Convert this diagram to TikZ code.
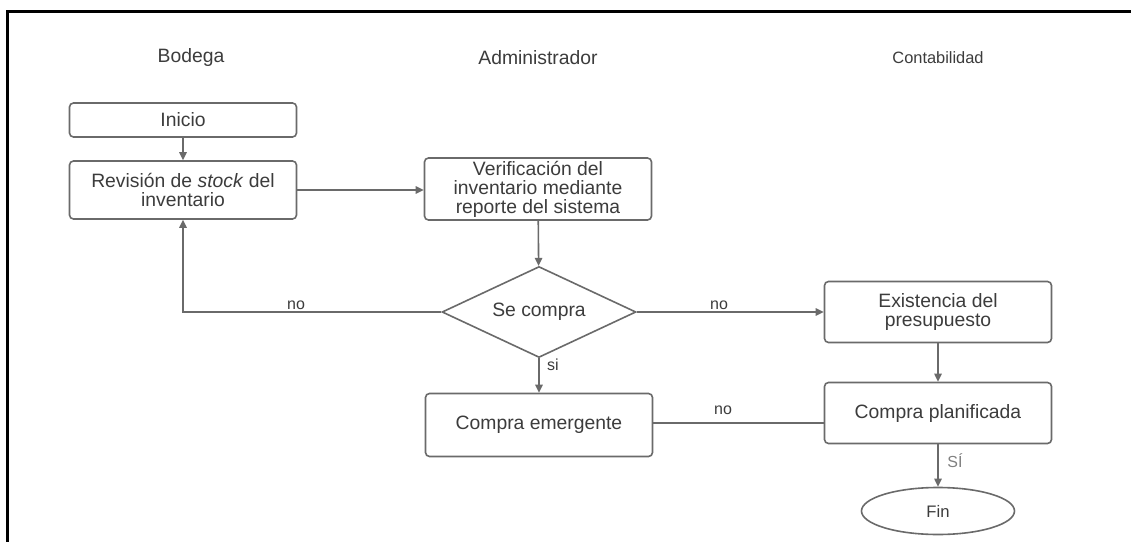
\documentclass[tikz,border=0pt]{standalone}
\usepackage{fontspec}
\setmainfont{Liberation Sans}
\usetikzlibrary{shapes.geometric,arrows.meta}
\definecolor{linegray}{HTML}{6A6A6A}
\definecolor{textgray}{HTML}{3C3C3C}
\begin{document}
\begin{tikzpicture}[x=0.75pt,y=-0.75pt,
  every node/.style={text=textgray},
  box/.style={draw=linegray,line width=1.2pt,rounded corners=3pt,fill=white,
    minimum width=170.25pt,align=center,inner sep=2pt,
    font=\fontsize{14.5}{14.2}\selectfont},
  decision/.style={draw=linegray,line width=1.2pt,shape=diamond,inner sep=0pt,
    aspect=2.13,minimum width=145.5pt,minimum height=68.25pt,
    font=\fontsize{14.5}{14.2}\selectfont},
  endshape/.style={draw=linegray,line width=1.2pt,ellipse,inner sep=0pt,
    minimum width=114.75pt,minimum height=35.25pt,font=\fontsize{12.5}{14}\selectfont},
  lane/.style={font=\fontsize{14.5}{16}\selectfont},
  lanesmall/.style={font=\fontsize{12.3}{14}\selectfont},
  conn/.style={draw=linegray,line width=1.2pt},
  arr/.style={conn,-{Triangle[length=6pt,width=5.5pt]}},
  lbl/.style={font=\fontsize{12}{14}\selectfont,inner sep=1pt},
]
\useasboundingbox (0,0) rectangle (1131,542);
\fill[white] (0,0) rectangle (1131,542);
% outer frame (top and left edges)
\draw[line width=2.25pt] (7,542) -- (7,12) -- (1131,12);

% lane titles
\node[lane] (hbod) at (191,58) {Bodega};
\node[lane] (hadm) at (538,58) {Administrador};
\node[lanesmall] (hcon) at (938,58) {Contabilidad};

% process steps
\node[box,minimum height=25.5pt] (inicio) at (183,120) {Inicio};
\node[box,minimum height=43.5pt] (revision) at (183,190) {Revisión de \textit{stock} del\\inventario};
\node[box,minimum height=46.5pt] (verif) at (538,189) {Verificación del\\inventario mediante\\reporte del sistema};
\node[decision] (compra) at (539,312) {Se compra};
\node[box,minimum height=47.25pt] (emerg) at (539,425) {Compra emergente};
\node[box,minimum height=45.75pt] (exist) at (938,312) {Existencia del\\presupuesto};
\node[box,minimum height=45.75pt] (planif) at (938,413) {Compra planificada};
\node[endshape] (fin) at (938,511) {Fin};

\coordinate (loopcorner) at (183,312);
\coordinate (emergout) at (653,423);

% connectors
\draw[arr] (inicio) -- (revision);
\draw[arr] (revision.east) -- (revision.east -| verif.west);
\draw[arr] (verif) -- (compra);
\draw[arr] (compra.west) -- (loopcorner) -- (revision.south);
\draw[arr] (compra.east) -- (exist.west);
\draw[arr] (compra.south) -- (emerg.north);
\draw[arr] (exist) -- (planif);
\draw[conn] (emergout) -- (emergout -| planif.west);
\draw[arr] (planif) -- (fin);

% connector labels
\node[lbl] (lno1) at (296,305) {no};
\node[lbl] (lno2) at (719,305) {no};
\node[lbl] (lsi1) at (553,365) {si};
\node[lbl] (lno3) at (723,410) {no};
\node[lbl,text=gray] (lsi2) at (955,461) {SÍ};
\end{tikzpicture}
\end{document}
